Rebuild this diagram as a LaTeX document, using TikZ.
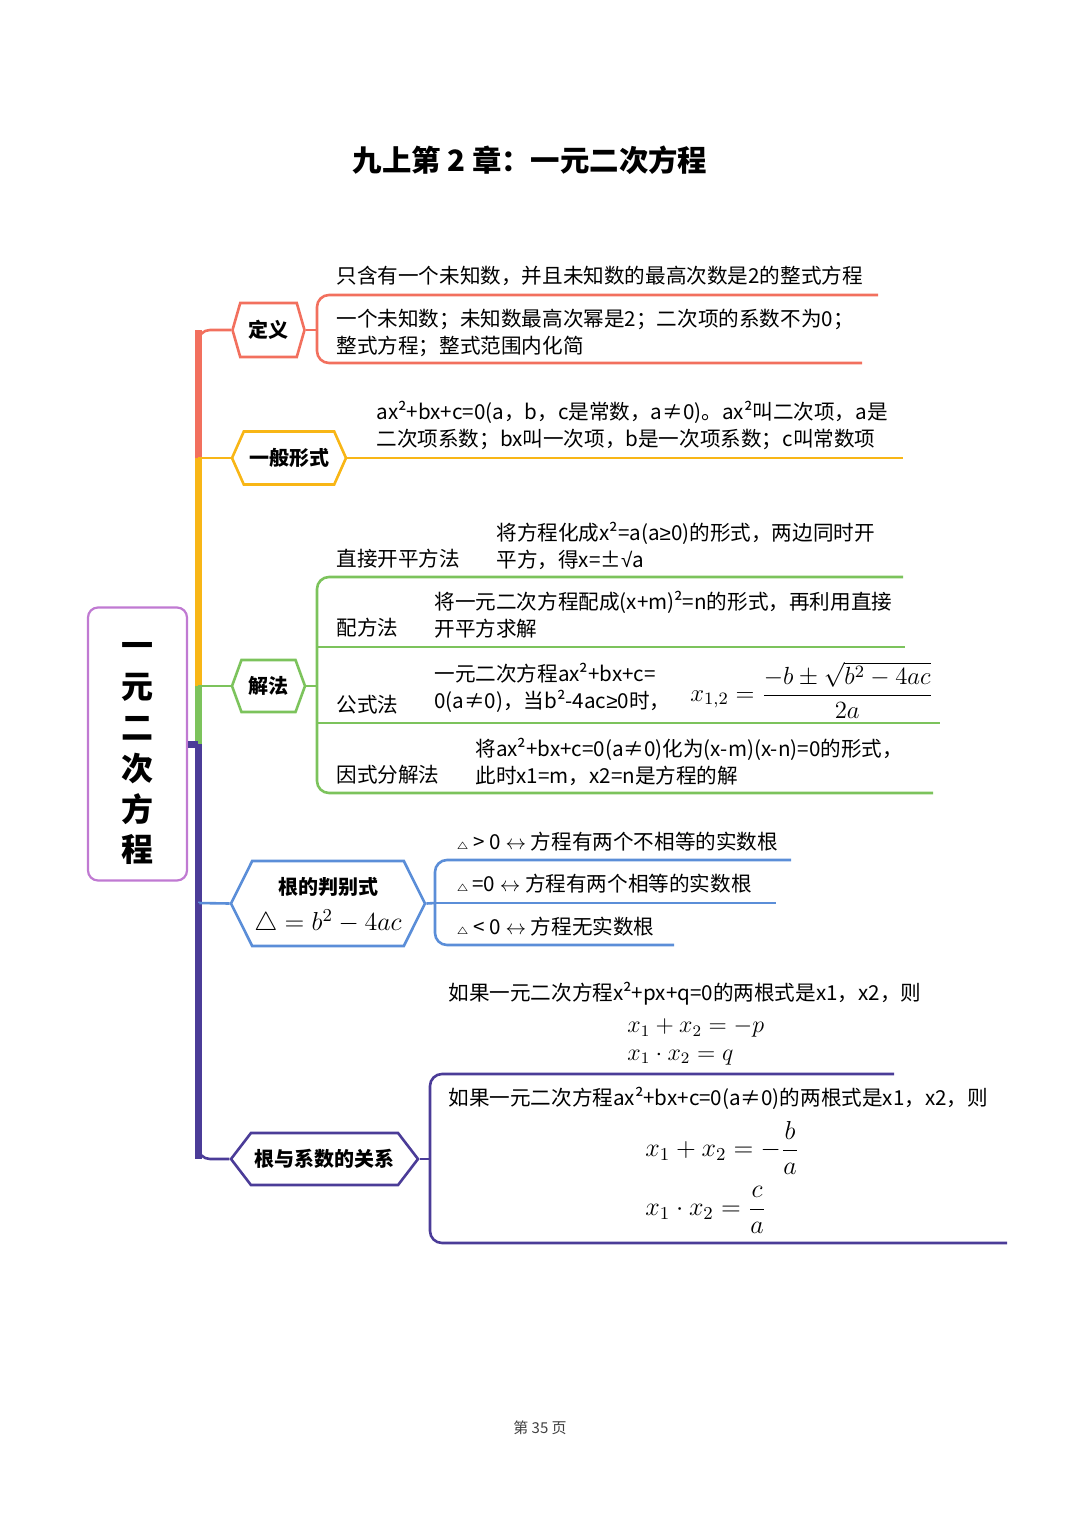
\RequirePackage{fix-cm}
\documentclass[tikz,border=0pt]{standalone}
\usepackage{amsmath}
\usepackage[no-math]{fontspec}
\setmainfont{Noto Sans CJK SC}
\newfontfamily\symfont{Liberation Sans}
\usetikzlibrary{shapes.symbols}

\definecolor{defred}{RGB}{242,112,94}
\definecolor{genorange}{RGB}{248,182,22}
\definecolor{solgreen}{RGB}{124,195,92}
\definecolor{discblue}{RGB}{91,142,216}
\definecolor{relpurple}{RGB}{75,60,152}
\definecolor{rootpurple}{RGB}{192,122,210}

\tikzset{
  topic/.style={signal, signal to=west and east, draw, line width=1.3pt, fill=white,
    inner sep=0pt, font=\fontsize{10}{12}\selectfont\bfseries},
  leaf/.style={anchor=west, inner sep=0pt, align=left, font=\fontsize{10.3}{13.5}\selectfont},
  mathleaf/.style={anchor=west, inner sep=0pt, font=\fontsize{12}{14}\selectfont},
  branch/.style={line width=1.3pt},
  trunk/.style={line width=3.5pt},
}

\newcommand{\tri}{{$\scriptscriptstyle\triangle$}}
\newcommand{\geqs}{{\symfont ≥}}
\newcommand{\sqrts}{{\symfont √}}

\begin{document}
\begin{tikzpicture}[x=0.5pt, y=-0.5pt]
  \useasboundingbox (0,0) rectangle (1080,1527);

  % Title
  \node[font=\fontsize{14.7}{16}\selectfont\bfseries] (title) at (530,160) {九上第 2 章：一元二次方程};

  % Root
  \node[draw=rootpurple, line width=1.1pt, rounded corners=5pt, minimum width=49.5pt,
    minimum height=136.5pt, align=center, font=\fontsize{16}{20.4}\selectfont\bfseries]
    (root) at (137.5,744) {\rule{0pt}{17.5pt}一\\元\\二\\次\\方\\程};

  % Trunk points
  \coordinate (tDef) at (198,330);
  \coordinate (tGen) at (198,458);
  \coordinate (tSol) at (198,686);
  \coordinate (tRoot) at (198,744);
  \coordinate (tDisc) at (198,903);
  \coordinate (tRel) at (198,1159);

  % Trunk
  \draw[trunk, defred] (tDef) -- (tGen);
  \draw[trunk, genorange] (tGen) -- (tSol);
  \draw[trunk, solgreen] (tSol) -- (tRoot);
  \draw[trunk, relpurple] (tRoot) -- (tRel);
  \draw[trunk, relpurple] (root.east) -- (tRoot);

  % Topics
  \node[topic, draw=defred, minimum width=36pt, minimum height=27pt, signal pointer angle=148] (def) at (268.5,330) {定义};
  \node[topic, draw=genorange, minimum width=57pt, minimum height=26.5pt, signal pointer angle=132] (gen) at (289,458) {一般形式};
  \node[topic, draw=solgreen, minimum width=36.5pt, minimum height=26pt, signal pointer angle=140] (sol) at (268.5,686) {解法};
  \node[topic, draw=discblue, minimum width=97pt, minimum height=42.5pt, signal pointer angle=127, align=center]
    (disc) at (328,903.5) {\rule{0pt}{12pt}根的判别式\\[6pt] {\fontsize{13}{14}\selectfont$\triangle = b^2 - 4ac$}};
  \node[topic, draw=relpurple, minimum width=93.5pt, minimum height=26pt, signal pointer angle=105] (rel) at (324.5,1159) {根与系数的关系};

  % Branches from trunk
  \draw[branch, defred, rounded corners=6pt] (tGen) -- (tDef) -- (def.west);
  \draw[branch, genorange] (tGen) -- (gen.west);
  \draw[branch, solgreen] (tSol) -- (sol.west);
  \draw[branch, discblue] (tDisc) -- (disc.west);
  \draw[branch, relpurple, rounded corners=6pt] (tDisc) -- (tRel) -- (rel.west);

  % Definition
  \node[leaf] (def1) at (336,276) {只含有一个未知数，并且未知数的最高次数是2的整式方程};
  \node[leaf] (def2) at (336,332.5) {一个未知数；未知数最高次幂是2；二次项的系数不为0；\\整式方程；整式范围内化简};
  \coordinate (dl1) at (317,295);
  \coordinate (dr1) at (878,295);
  \coordinate (dl2) at (317,363);
  \coordinate (dr2) at (862,363);
  \coordinate (dm) at (317,330);
  \draw[branch, defred, rounded corners=6pt] (dr1) -- (dl1) -- (dl2) -- (dr2);
  \draw[branch, defred] (def.east) -- (dm);

  % General form
  \node[leaf] (gen1) at (376,425.5) {ax²+bx+c=0(a，b，c是常数，a≠0)。ax²叫二次项，a是\\二次项系数；bx叫一次项，b是一次项系数；c叫常数项};
  \coordinate (gr) at (903,458);
  \draw[branch, genorange] (gen.east) -- (gr);

  % Solving methods
  \node[leaf] (sa) at (336,559) {直接开平方法};
  \node[leaf] (sa1) at (496,545.5) {将方程化成x²=a(a\geqs0)的形式，两边同时开\\平方，得x=±\sqrts a};
  \node[leaf] (sb) at (336,628) {配方法};
  \node[leaf] (sb1) at (434,614.5) {将一元二次方程配成(x+m)²=n的形式，再利用直接\\开平方求解};
  \node[leaf] (sc) at (336,705) {公式法};
  \node[leaf] (sc1) at (434,687.5) {一元二次方程ax²+bx+c=\\0(a≠0)，当b²-4ac\geqs0时，};
  \node[mathleaf, font=\fontsize{12.4}{14}\selectfont] (sc2) at (690,690) {$x_{1,2} = \dfrac{-b \pm \sqrt{b^2 - 4ac}}{2a}$};
  \node[leaf] (sd) at (336,775) {因式分解法};
  \node[leaf] (sd1) at (475,761.5) {将ax²+bx+c=0(a≠0)化为(x-m)(x-n)=0的形式，\\此时x1=m，x2=n是方程的解};
  \coordinate (sl1) at (317,577);
  \coordinate (sr1) at (903,577);
  \coordinate (sl2) at (317,647);
  \coordinate (sr2) at (905,647);
  \coordinate (sl3) at (317,723);
  \coordinate (sr3) at (940,723);
  \coordinate (sl4) at (317,793);
  \coordinate (sr4) at (933,793);
  \coordinate (sm) at (317,686);
  \draw[branch, solgreen, rounded corners=6pt] (sr1) -- (sl1) -- (sl4) -- (sr4);
  \draw[branch, solgreen] (sl2) -- (sr2);
  \draw[branch, solgreen] (sl3) -- (sr3);
  \draw[branch, solgreen] (sol.east) -- (sm);

  % Discriminant
  \node[leaf] (d1) at (456,842) {\tri\ > 0 $\leftrightarrow$ 方程有两个不相等的实数根};
  \node[leaf] (d2) at (456,884) {\tri\,=0 $\leftrightarrow$ 方程有两个相等的实数根};
  \node[leaf] (d3) at (456,927) {\tri\ < 0 $\leftrightarrow$ 方程无实数根};
  \coordinate (bl1) at (435,860);
  \coordinate (br1) at (791,860);
  \coordinate (bl2) at (435,903);
  \coordinate (br2) at (776,903);
  \coordinate (bl3) at (435,945);
  \coordinate (br3) at (674,945);
  \draw[branch, discblue, rounded corners=6pt] (br1) -- (bl1) -- (bl3) -- (br3);
  \draw[branch, discblue] (bl2) -- (br2);
  \draw[branch, discblue] (disc.east) -- (bl2);

  % Roots and coefficients
  \node[leaf] (r1) at (448,994) {如果一元二次方程x²+px+q=0的两根式是x1，x2，则};
  \node[mathleaf] (r1a) at (627,1028) {$x_1 + x_2 = -p$};
  \node[mathleaf] (r1b) at (627,1057) {$x_1 \cdot x_2 = q$};
  \node[leaf] (r2) at (448,1098) {如果一元二次方程ax²+bx+c=0(a≠0)的两根式是x1，x2，则};
  \node[mathleaf, font=\fontsize{13}{15}\selectfont] (r2a) at (645,1148) {$x_1 + x_2 = -\dfrac{b}{a}$};
  \node[mathleaf, font=\fontsize{13}{15}\selectfont] (r2b) at (645,1210) {$x_1 \cdot x_2 = \dfrac{c}{a}$};
  \coordinate (rl1) at (430,1074);
  \coordinate (rr1) at (894,1074);
  \coordinate (rl2) at (430,1243);
  \coordinate (rr2) at (1007,1243);
  \coordinate (rm) at (430,1159);
  \draw[branch, relpurple, rounded corners=6pt] (rr1) -- (rl1) -- (rl2) -- (rr2);
  \draw[branch, relpurple] (rel.east) -- (rm);

  % Page number
  \node[font=\fontsize{7.5}{9}\selectfont, text=black!75] (page) at (540,1428) {第 35 页};

\end{tikzpicture}
\end{document}
